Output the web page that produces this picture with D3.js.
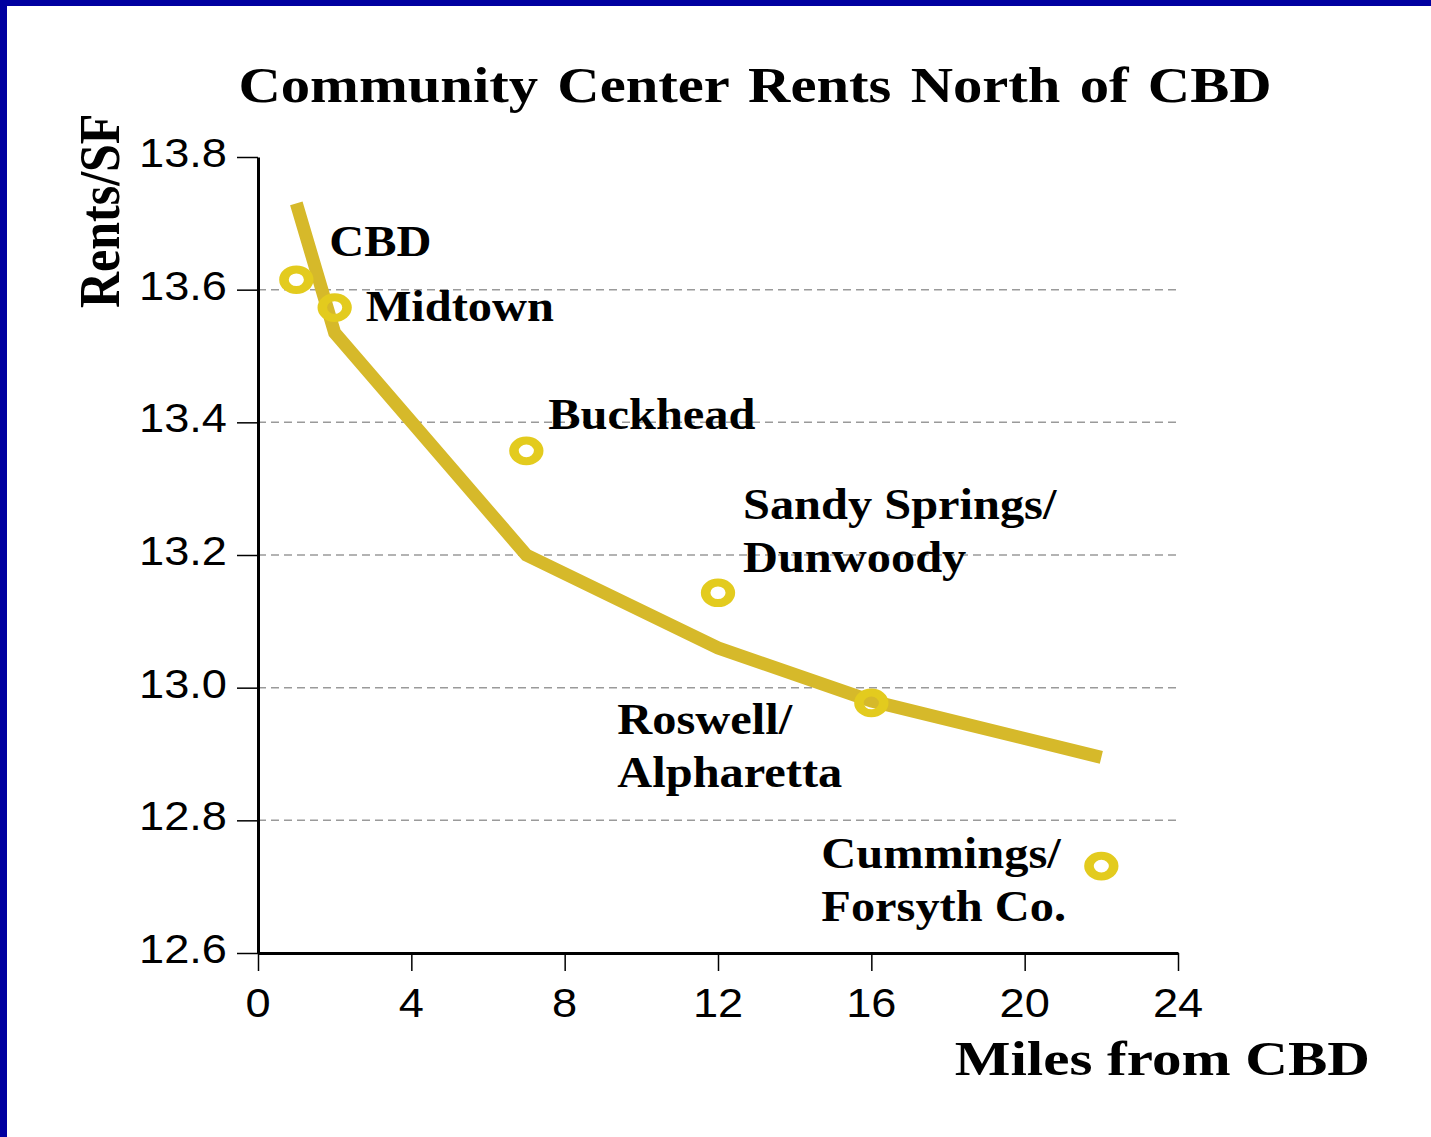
<!DOCTYPE html>
<html>
<head>
<meta charset="utf-8">
<script src="https://cdn.jsdelivr.net/npm/d3@7"></script>
<style>
  html, body { margin: 0; padding: 0; background: #fff; }
  svg { display: block; }
</style>
</head>
<body>
<script>
// ---- data ----
const locations = ["CBD", "Midtown", "Buckhead", "Sandy Springs/Dunwoody", "Roswell/Alpharetta", "Cummings/Forsyth Co."];
const miles = [1, 2, 7, 12, 16, 22];
const rents = [13.615, 13.573, 13.357, 13.143, 12.977, 12.731];
const fitMiles = [1, 2, 7, 12, 16, 22];
const fitRents = [13.73, 13.535, 13.2, 13.06, 12.98, 12.895];
const xTicks = [0, 4, 8, 12, 16, 20, 24];
const yTicks = [12.6, 12.8, 13.0, 13.2, 13.4, 13.6, 13.8];
const gridTicks = [12.8, 13.0, 13.2, 13.4, 13.6];
const labelLines = [["CBD"], ["Midtown"], ["Buckhead"], ["Sandy Springs/", "Dunwoody"], ["Roswell/", "Alpharetta"], ["Cummings/", "Forsyth Co."]];
// label offsets relative to point (dx, dy of first baseline)
const labelOffsets = [[33, -24], [31, 13], [22, -22], [25, -74], [-254, 31], [-280, 2]];

const W = 1431, H = 1137;
const SX = 1.1; // horizontal stretch of glyphs
const serif = "'Liberation Serif', 'Times New Roman', serif";
const sans = "'Liberation Sans', Arial, sans-serif";

const svg = d3.select("body").append("svg").attr("width", W).attr("height", H);
svg.append("rect").attr("width", W).attr("height", H).attr("fill", "#fff");
// blue frame (top & left)
svg.append("rect").attr("x", 0).attr("y", 0).attr("width", W).attr("height", 6).attr("fill", "#0000A0");
svg.append("rect").attr("x", 0).attr("y", 0).attr("width", 7).attr("height", H).attr("fill", "#0000A0");

const x = d3.scaleLinear().domain([0, 24]).range([258, 1178]);
const y = d3.scaleLinear().domain([12.6, 13.8]).range([953, 157]);

// gridlines
svg.append("g").selectAll("line").data(gridTicks).join("line")
  .attr("x1", x(0)).attr("x2", x(24))
  .attr("y1", d => y(d)).attr("y2", d => y(d))
  .attr("stroke", "#9a9a9a").attr("stroke-width", 1.5)
  .attr("stroke-dasharray", "8,5");

// axes
const yAxis = svg.append("g").attr("transform", `translate(${x(0)},0)`)
  .call(d3.axisLeft(y).tickValues(yTicks).tickSize(21).tickSizeOuter(0).tickFormat(""));
const xAxis = svg.append("g").attr("transform", `translate(0,${y(12.6)})`)
  .call(d3.axisBottom(x).tickValues(xTicks).tickSize(18).tickSizeOuter(0).tickFormat(""));
[yAxis, xAxis].forEach(a => {
  a.select(".domain").attr("stroke", "#000").attr("stroke-width", 3);
  a.selectAll(".tick line").attr("stroke", "#000").attr("stroke-width", 1.5);
});

// tick labels
svg.append("g").selectAll("text").data(yTicks).join("text")
  .attr("transform", d => `translate(227,${y(d) + 10}) scale(1.13,1)`)
  .attr("text-anchor", "end")
  .attr("font-family", sans).attr("font-size", 40)
  .text(d => d.toFixed(1));
svg.append("g").selectAll("text").data(xTicks).join("text")
  .attr("transform", d => `translate(${x(d)},1017) scale(1.13,1)`)
  .attr("text-anchor", "middle")
  .attr("font-family", sans).attr("font-size", 40)
  .text(d => d);

// fit line
const fit = fitMiles.map((m, i) => [m, fitRents[i]]);
svg.append("path").datum(fit)
  .attr("d", d3.line().x(d => x(d[0])).y(d => y(d[1])))
  .attr("fill", "none").attr("stroke", "#D6B92A").attr("stroke-width", 13)
  .attr("stroke-linejoin", "miter").attr("stroke-linecap", "butt");

// points (rings)
svg.append("g").selectAll("circle").data(miles.map((m, i) => [m, rents[i]])).join("circle")
  .attr("transform", d => `translate(${x(d[0])},${y(d[1])}) scale(1.2,1)`)
  .attr("r", 10.3).attr("fill", "none")
  .attr("stroke", "#E3CB1E").attr("stroke-width", 8);

// point labels
const lg = svg.append("g");
labelLines.forEach((lines, i) => {
  const px = x(miles[i]) + labelOffsets[i][0];
  const py = y(rents[i]) + labelOffsets[i][1];
  lines.forEach((t, j) => {
    lg.append("text")
      .attr("transform", `translate(${px},${py + j * 53}) scale(${SX},1)`)
      .attr("font-family", serif).attr("font-weight", "bold").attr("font-size", 44)
      .text(t);
  });
});

// title
svg.append("text")
  .attr("transform", `translate(755,102) scale(1.15,1)`)
  .attr("text-anchor", "middle")
  .attr("font-family", serif).attr("font-weight", "bold").attr("font-size", 51)
  .attr("word-spacing", 4)
  .text("Community Center Rents North of CBD");

// axis titles
svg.append("text")
  .attr("transform", `translate(1370,1075) scale(1.23,1)`)
  .attr("text-anchor", "end")
  .attr("font-family", serif).attr("font-weight", "bold").attr("font-size", 48)
  .text("Miles from CBD");
svg.append("text")
  .attr("transform", `translate(119,308) rotate(-90) scale(1,1.13)`)
  .attr("text-anchor", "start")
  .attr("font-family", serif).attr("font-weight", "bold").attr("font-size", 50)
  .text("Rents/SF");
</script>
</body>
</html>
